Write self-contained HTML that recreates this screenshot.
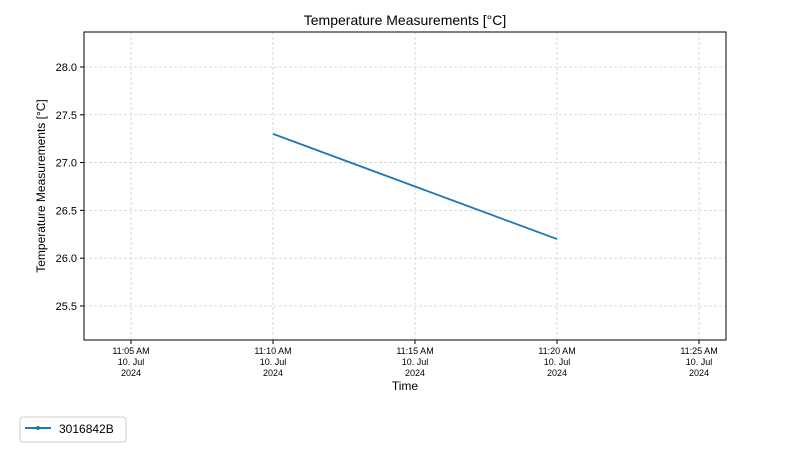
<!DOCTYPE html>
<html><head><meta charset="utf-8"><style>
body{margin:0;background:#fff;}
svg{display:block;font-family:"Liberation Sans","DejaVu Sans",sans-serif;}
</style></head><body>
<svg id="chart" width="798" height="453">
<text x="405" y="25" font-size="14" text-anchor="middle">Temperature Measurements [°C]</text>
<g id="grid"></g>
<g id="axes"></g>
<g id="series"></g>
<text x="405" y="390" font-size="12" text-anchor="middle">Time</text>
<text transform="translate(45,186) rotate(-90)" font-size="12" text-anchor="middle">Temperature Measurements [°C]</text>
<g>
<rect x="20" y="417" width="106" height="25" rx="3" fill="#fff" stroke="#ccc"/>
<line x1="25" y1="428" x2="51" y2="428" stroke="#1f77b4" stroke-width="2"/>
<circle cx="38" cy="428" r="2" fill="#1f77b4"/>
<text x="59" y="433" font-size="12">3016842B</text>
</g>
</svg>
<script>
const seriesTimes = [10, 20];          // minutes after 11:00
const seriesValues = [27.3, 26.2];
const yTicks = [25.5, 26.0, 26.5, 27.0, 27.5, 28.0];
const xTicks = [5, 10, 15, 20, 25];
const xTickLabels = ["11:05 AM", "11:10 AM", "11:15 AM", "11:20 AM", "11:25 AM"];

const L=84,R=726,T=32,B=340;
const xMin=3.345,xMax=25.95,yMin=25.144,yMax=28.366;
const sx=v=>L+(v-xMin)/(xMax-xMin)*(R-L);
const sy=v=>B-(v-yMin)/(yMax-yMin)*(B-T);
const NS="http://www.w3.org/2000/svg";
function mk(tag,attrs,parent,txt){const e=document.createElementNS(NS,tag);for(const k in attrs)e.setAttribute(k,attrs[k]);if(txt!=null)e.textContent=txt;parent.appendChild(e);return e;}
const grid=document.getElementById('grid'),axes=document.getElementById('axes'),series=document.getElementById('series');
yTicks.forEach(v=>{
  const y=sy(v);
  const g=mk('line',{x1:L,x2:R,y1:y,y2:y,stroke:'#d0d0d0','stroke-dasharray':'3,2','stroke-width':0.8},grid);
  
  
  const t=mk('line',{x1:L-4,x2:L,y1:y,y2:y,stroke:'#000'},axes);
  
  
  const lb=mk('text',{x:L-7,y:y+4,'font-size':11,'text-anchor':'end'},axes,v.toFixed(1));
  
  
});
xTicks.forEach((v,i)=>{
  const x=sx(v);
  const g=mk('line',{x1:x,x2:x,y1:T,y2:B,stroke:'#d0d0d0','stroke-dasharray':'3,2','stroke-width':0.8},grid);
  
  
  const t=mk('line',{x1:x,x2:x,y1:B,y2:B+4,stroke:'#000'},axes);
  
  
  const lb=mk('text',{x:x,y:B+14,'font-size':9,'text-anchor':'middle'},axes);
  
  
  [xTickLabels[i],"10. Jul","2024"].forEach((s,j)=>mk('tspan',{x:x,dy:j?11:0},lb,s));
});
const frame=mk('rect',{x:L,y:T,width:R-L,height:B-T,fill:'none',stroke:'#000','stroke-width':1},axes);


const pts=seriesTimes.map((t,i)=>sx(t)+','+sy(seriesValues[i])).join(' ');
const pl=mk('polyline',{points:pts,fill:'none',stroke:'#1f77b4','stroke-width':1.8},series);


</script>
</body></html>
